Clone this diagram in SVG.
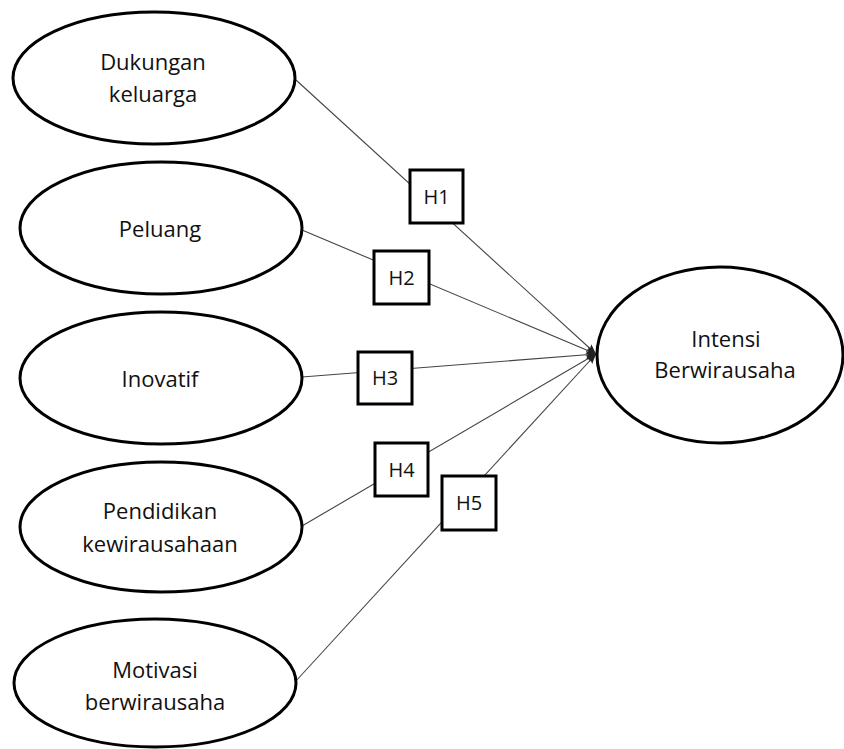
<svg xmlns="http://www.w3.org/2000/svg" width="844" height="749" viewBox="0 0 844 749">
<style>
.node ellipse{fill:#fff;stroke:#000;stroke-width:3}
.box rect{fill:#fff;stroke:#000;stroke-width:3}
text{font-family:"Open Sans","Liberation Sans",sans-serif;font-size:22px;fill:#111;text-anchor:middle}
.box text{font-size:20px}
.conn line{stroke:#444;stroke-width:1.1;marker-end:url(#arr)}
</style>
<defs>
<marker id="arr" viewBox="0 0 10 8" refX="10" refY="4" markerWidth="10" markerHeight="8" markerUnits="userSpaceOnUse" orient="auto">
<path d="M0,0 L10,4 L0,8 L2,4 Z" fill="#222"/>
</marker>
</defs>
<rect width="844" height="749" fill="#fff"/>
<g id="connectors" class="conn">
<line x1="296" y1="80" x2="596" y2="354"/>
<line x1="302" y1="230" x2="596" y2="354"/>
<line x1="302" y1="377" x2="596" y2="354"/>
<line x1="302" y1="526" x2="596" y2="354"/>
<line x1="295" y1="682" x2="596" y2="354"/>
</g>
<g id="dukungan" class="node"><ellipse cx="154" cy="78" rx="141" ry="66"/><text x="153" y="70">Dukungan</text><text x="153" y="102">keluarga</text></g>
<g id="peluang" class="node"><ellipse cx="161" cy="228" rx="141" ry="66"/><text x="160" y="237">Peluang</text></g>
<g id="inovatif" class="node"><ellipse cx="161" cy="378" rx="141" ry="66"/><text x="160" y="387">Inovatif</text></g>
<g id="pendidikan" class="node"><ellipse cx="161" cy="527" rx="141" ry="65"/><text x="160" y="519">Pendidikan</text><text x="160" y="552">kewirausahaan</text></g>
<g id="motivasi" class="node"><ellipse cx="155" cy="683" rx="141" ry="64"/><text x="155" y="678">Motivasi</text><text x="155" y="710">berwirausaha</text></g>
<g id="intensi" class="node"><ellipse cx="720" cy="355" rx="123" ry="88"/><text x="726" y="347">Intensi</text><text x="725" y="378">Berwirausaha</text></g>
<g id="h1" class="box"><rect x="410" y="170" width="53" height="53"/><text x="436.5" y="204">H1</text></g>
<g id="h2" class="box"><rect x="374" y="251" width="55" height="53"/><text x="401.5" y="285">H2</text></g>
<g id="h3" class="box"><rect x="358" y="352" width="54" height="52"/><text x="385" y="385">H3</text></g>
<g id="h4" class="box"><rect x="375" y="443" width="53" height="53"/><text x="401.5" y="477">H4</text></g>
<g id="h5" class="box"><rect x="442" y="476" width="54" height="54"/><text x="469" y="510">H5</text></g>
</svg>
